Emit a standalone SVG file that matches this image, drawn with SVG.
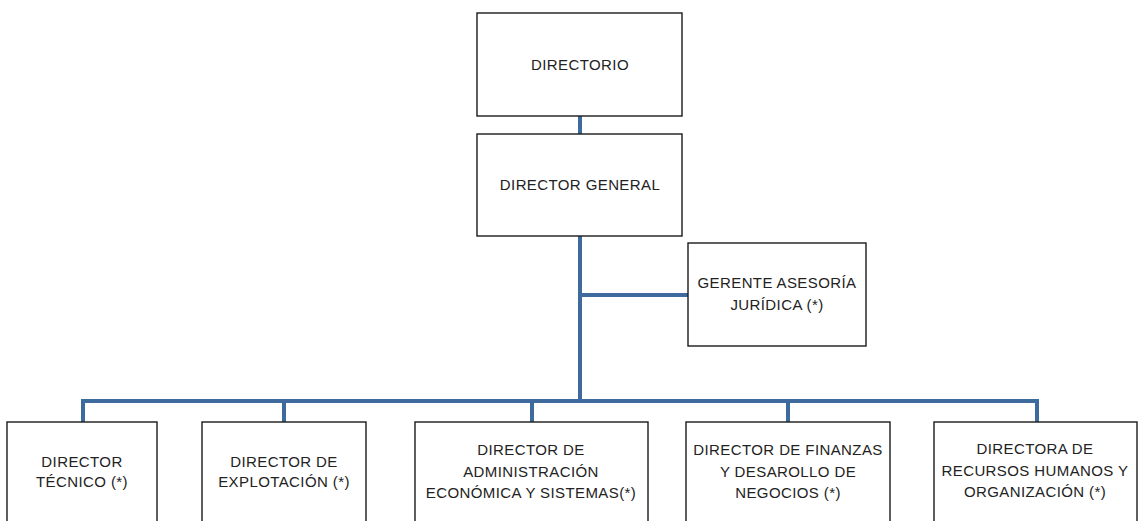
<svg xmlns="http://www.w3.org/2000/svg" width="1139" height="521" viewBox="0 0 1139 521">
<style>
.box{fill:#fff;stroke:#1a1a1a;stroke-width:1.4}
.t{font-family:"Liberation Sans",Arial,sans-serif;font-size:15px;fill:#222;text-anchor:middle;letter-spacing:0.4px}
.c{fill:none;stroke:#3F6A9E;stroke-width:4}
</style>
<rect width="1139" height="521" fill="#fff"/>
<g id="connectors">
<line class="c" x1="580" y1="116" x2="580" y2="134"/>
<line class="c" x1="580" y1="236" x2="580" y2="401"/>
<line class="c" x1="580" y1="295" x2="688" y2="295"/>
<polyline class="c" points="83,422 83,401 1037,401 1037,422"/>
<line class="c" x1="284" y1="401" x2="284" y2="422"/>
<line class="c" x1="532" y1="401" x2="532" y2="422"/>
<line class="c" x1="788" y1="401" x2="788" y2="422"/>
</g>
<g id="directorio">
<rect class="box" x="477" y="13" width="205" height="103"/>
<text class="t" x="580" y="70">DIRECTORIO</text>
</g>
<g id="director-general">
<rect class="box" x="477" y="134" width="205" height="102"/>
<text class="t" x="580" y="190">DIRECTOR GENERAL</text>
</g>
<g id="gerente-asesoria">
<rect class="box" x="688" y="243" width="178" height="103"/>
<text class="t" x="777" y="288">GERENTE ASESORÍA</text>
<text class="t" x="777" y="310">JURÍDICA (*)</text>
</g>
<g id="director-tecnico">
<rect class="box" x="7" y="422" width="150" height="110"/>
<text class="t" x="82" y="467">DIRECTOR</text>
<text class="t" x="82" y="487">TÉCNICO (*)</text>
</g>
<g id="director-explotacion">
<rect class="box" x="202" y="422" width="164" height="110"/>
<text class="t" x="284" y="467">DIRECTOR DE</text>
<text class="t" x="284" y="487">EXPLOTACIÓN (*)</text>
</g>
<g id="director-administracion">
<rect class="box" x="415" y="422" width="233" height="110"/>
<text class="t" x="531" y="455">DIRECTOR DE</text>
<text class="t" x="531" y="477">ADMINISTRACIÓN</text>
<text class="t" x="531" y="498">ECONÓMICA Y SISTEMAS(*)</text>
</g>
<g id="director-finanzas">
<rect class="box" x="686" y="422" width="204" height="110"/>
<text class="t" x="788" y="455">DIRECTOR DE FINANZAS</text>
<text class="t" x="788" y="477">Y DESAROLLO DE</text>
<text class="t" x="788" y="498">NEGOCIOS (*)</text>
</g>
<g id="directora-rrhh">
<rect class="box" x="934" y="422" width="203" height="110"/>
<text class="t" x="1035" y="454">DIRECTORA DE</text>
<text class="t" x="1035" y="476">RECURSOS HUMANOS Y</text>
<text class="t" x="1035" y="497">ORGANIZACIÓN (*)</text>
</g>
</svg>
